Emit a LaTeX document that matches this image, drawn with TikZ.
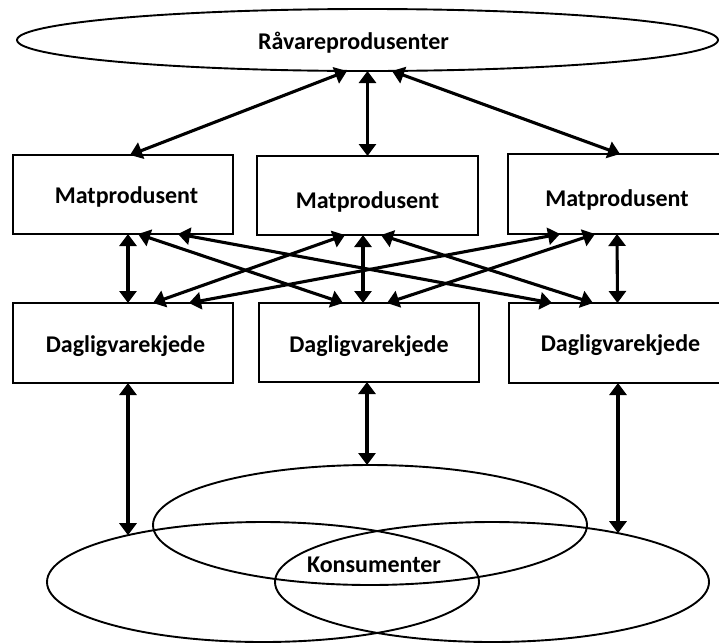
\documentclass[tikz,border=0pt]{standalone}
\usepackage{fontspec}
\setmainfont{Carlito}
\usetikzlibrary{shapes.geometric,arrows.meta}
\begin{document}
\begin{tikzpicture}[x=1pt,y=-1pt,
  box/.style={draw, line width=2pt, inner sep=0pt, outer sep=0pt},
  oval/.style={draw, ellipse, line width=1.9pt, inner sep=0pt, outer sep=0pt},
  lbl/.style={anchor=base, inner sep=0pt, font=\fontsize{24}{28}\selectfont\bfseries},
  link/.style={line width=3.1pt, {Triangle[length=12pt,width=17pt]}-{Triangle[length=12pt,width=17pt]}}
]
\useasboundingbox (0,0) rectangle (719,643);

% top ellipse
\node[oval, minimum width=701pt, minimum height=62pt] (R) at (367.5,40) {};
\node[lbl] (tR) at (353.5,49) {Råvareprodusenter};

% boxes
\node[box, minimum width=220pt, minimum height=79pt] (m1) at (123,194.5) {};
\node[box, minimum width=221pt, minimum height=79pt] (m2) at (367.5,195.5) {};
\node[box, minimum width=218pt, minimum height=80pt] (m3) at (617,194) {};
\node[box, minimum width=220pt, minimum height=80pt] (d1) at (123,343) {};
\node[box, minimum width=220pt, minimum height=79pt] (d2) at (369,342.5) {};
\node[box, minimum width=217pt, minimum height=80pt] (d3) at (617.5,343) {};

\node[lbl] (tm1) at (126.5,203) {Matprodusent};
\node[lbl] (tm2) at (367.5,208) {Matprodusent};
\node[lbl] (tm3) at (617,206) {Matprodusent};
\node[lbl] (td1) at (125.5,352) {Dagligvarekjede};
\node[lbl] (td2) at (369,352) {Dagligvarekjede};
\node[lbl] (td3) at (620.5,351) {Dagligvarekjede};

% bottom ellipses
\node[oval, minimum width=434pt, minimum height=120pt] (U) at (370,525) {};
\node[oval, minimum width=432pt, minimum height=120pt] (L) at (263,582) {};
\node[oval, minimum width=434pt, minimum height=120pt] (Q) at (492,582) {};
\node[lbl] (tK) at (374,572) {Konsumenter};

% top arrows
\draw[link] ([xshift=-20.5pt]R.south) -- ([xshift=7pt]m1.north);
\draw[link] (R.south) -- (m2.north);
\draw[link] ([xshift=24.5pt]R.south) -- ([xshift=3pt]m3.north);

% middle arrows
\draw[link] ([xshift=5pt]m1.south) -- ([xshift=5pt]d1.north);
\draw[link] ([xshift=15pt]m1.south) -- ([xshift=-26pt]d2.north);
\draw[link] ([xshift=55pt]m1.south) -- ([xshift=-65.5pt]d3.north);
\draw[link] ([xshift=30pt]d1.north) -- ([xshift=-22.5pt]m2.south);
\draw[link] ([xshift=66pt]d1.north) -- ([xshift=-57pt]m3.south);
\draw[link] ([xshift=-4.5pt]m2.south) -- ([xshift=-6pt]d2.north);
\draw[link] ([xshift=13.5pt]m2.south) -- ([xshift=-24.5pt]d3.north);
\draw[link] ([xshift=18pt]d2.north) -- ([xshift=-22pt]m3.south);
\draw[link] (m3.south) -- (d3.north);

% bottom arrows (ending on the top of the lower ellipses)
\coordinate (d1b) at ([xshift=5pt]d1.south);
\coordinate (d3b) at ([xshift=0.5pt]d3.south);
\coordinate (eL) at (128,535.2);
\coordinate (eQ) at (618,533.2);
\draw[link] (d1b) -- (d1b |- eL);
\draw[link] ([xshift=-2pt]d2.south) -- ([xshift=-3pt]U.north);
\draw[link] (d3b) -- (d3b |- eQ);
\end{tikzpicture}
\end{document}
